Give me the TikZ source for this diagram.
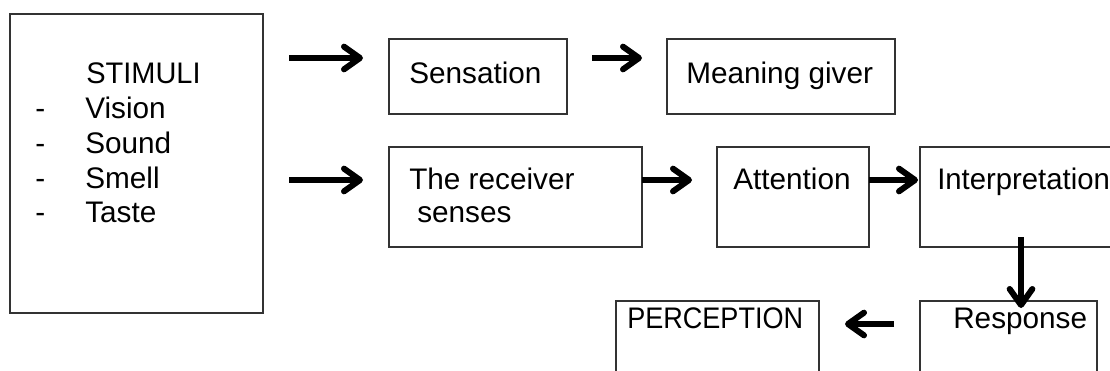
\documentclass[tikz,border=0pt]{standalone}
\usepackage{fontspec}
\setmainfont{Liberation Sans}
\usetikzlibrary{arrows.meta}
\begin{document}
\begin{tikzpicture}[x=0.75pt,y=-0.75pt,
  box/.style={draw=black!80, line width=1.5pt, rectangle, inner sep=0pt, outer sep=0pt},
  lbl/.style={anchor=base west, inner sep=0pt, font=\fontsize{22.3}{26}\selectfont},
  arr/.style={line width=4.5pt, -{Straight Barb[length=12pt,width=17pt,round]}}]
\useasboundingbox (0,0) rectangle (1110,371);
\clip (0,0) rectangle (1110,371);
% boxes given by their corner coordinates
\newcommand\cornerbox[5]{%
  \node[box, minimum width={(#4-#2)*0.75pt}, minimum height={(#5-#3)*0.75pt}]
    (#1) at ({(#2+#4)/2},{(#3+#5)/2}) {};}
\cornerbox{stim}{10}{14}{263}{313}
\cornerbox{sens}{389}{39}{567}{114}
\cornerbox{mean}{667}{39}{895}{114}
\cornerbox{recv}{389}{147}{642}{247}
\cornerbox{attn}{717}{147}{869}{247}
\cornerbox{intp}{920}{147}{1140}{247}
\cornerbox{resp}{920}{301}{1097}{400}
\cornerbox{perc}{616}{301}{819}{400}
% texts
\node[lbl] (t-stim) at (86,83) {\scalebox{0.975}[1]{STIMULI}};
\node[lbl] (d1) at (35,118) {-};
\node[lbl] (d2) at (35,153) {-};
\node[lbl] (d3) at (35,188) {-};
\node[lbl] (d4) at (35,222) {-};
\node[lbl] (t-vis) at (85,118) {Vision};
\node[lbl] (t-snd) at (85,153) {Sound};
\node[lbl] (t-sml) at (85,188) {Smell};
\node[lbl] (t-tst) at (85,222) {Taste};
\node[lbl] (t-sens) at (409,83) {Sensation};
\node[lbl] (t-mean) at (686,83) {Meaning giver};
\node[lbl] (t-recv1) at (409,189) {The receiver};
\node[lbl] (t-recv2) at (417,222) {senses};
\node[lbl] (t-attn) at (733,189) {Attention};
\node[lbl] (t-intp) at (937,189) {\scalebox{0.985}[1]{Interpretation}};
\node[lbl] (t-resp) at (953,328) {Response};
\node[lbl] (t-perc) at (627,328) {\scalebox{0.91}[1]{PERCEPTION}};
% rows and column of the arrows
\coordinate (row1) at (0,58);
\coordinate (row2) at (0,180);
\coordinate (row3) at (0,324);
\coordinate (col1) at (1021,0);
% connectors
\draw[arr, shorten <=19.5pt, shorten >=19.5pt] (stim.east |- row1) -- (sens.west |- row1);
\draw[arr, shorten <=19.5pt, shorten >=19.5pt] (stim.east |- row2) -- (recv.west |- row2);
\draw[arr, shorten <=18.75pt, shorten >=18.75pt] (sens.east |- row1) -- (mean.west |- row1);
\draw[arr, shorten >=18.75pt] (recv.east |- row2) -- (attn.west |- row2);
\draw[arr, shorten >=1.5pt] (attn.east |- row2) -- (intp.west |- row2);
\draw[arr, shorten <=-7.5pt, shorten >=-5.25pt] (intp.south -| col1) -- (resp.north -| col1);
\draw[arr, shorten <=19.5pt, shorten >=19.5pt] (resp.west |- row3) -- (perc.east |- row3);
\end{tikzpicture}
\end{document}
